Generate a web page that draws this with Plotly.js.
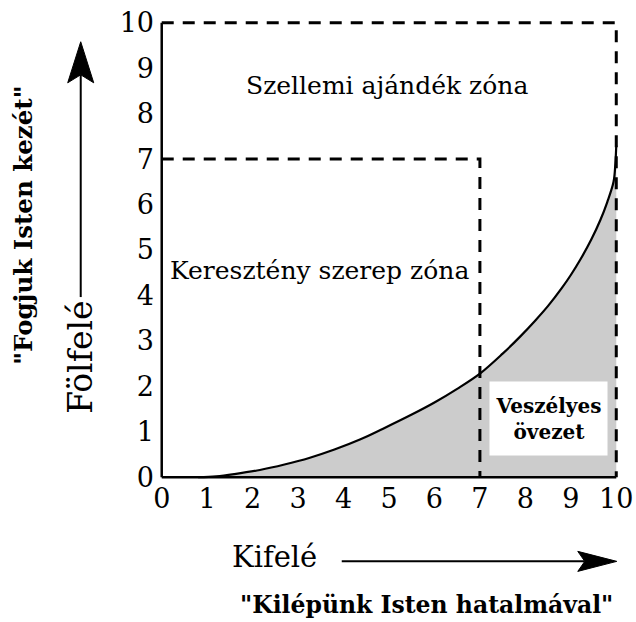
<!DOCTYPE html>
<html>
<head>
<meta charset="utf-8">
<script src="https://cdn.plot.ly/plotly-3.0.1.min.js"></script>
<style>
html,body{margin:0;padding:0;background:#fff;}
#chart{width:636px;height:622px;}
</style>
</head>
<body>
<div id="chart"></div>
<script>
// ---- data ----
var curveX = [0.8, 1.2, 1.6, 2.16, 2.7, 3.26, 3.8, 4.36, 4.87, 5.5, 6.0, 6.5, 7.0, 7.5, 7.89, 8.22, 8.5, 8.8, 9.0, 9.21, 9.45, 9.65, 9.8, 9.94, 9.98, 10];
var curveY = [0, 0.02, 0.07, 0.16, 0.28, 0.43, 0.61, 0.83, 1.07, 1.38, 1.645, 1.945, 2.28, 2.72, 3.10, 3.45, 3.77, 4.16, 4.45, 4.79, 5.23, 5.66, 6.05, 6.5, 6.9, 7.3];
var outerZoneX = [0, 10, 10];
var outerZoneY = [10, 10, 0];
var innerZoneX = [0, 7, 7];
var innerZoneY = [7, 7, 0];
var yAxisLineX = [0, 0];
var yAxisLineY = [0, 10];
var xAxisLineX = [0, 10];
var xAxisLineY = [0, 0];
var tickVals = [0, 1, 2, 3, 4, 5, 6, 7, 8, 9, 10];
var tickText = ["0", "1", "2", "3", "4", "5", "6", "7", "8", "9", "10"];
var zoneLabels = ["Szellemi ajándék zóna", "Keresztény szerep zóna"];
var zoneLabelX = [4.96, 3.48];
var zoneLabelY = [8.63, 4.54];
var dangerLabel = "Veszélyes<br>övezet";
var dangerX = 8.5, dangerY = 1.29;
var xTitle = "Kifelé";
var yTitle = "Fölfelé";
var xSubtitle = "\"Kilépünk Isten hatalmával\"";
var ySubtitle = "\"Fogjuk Isten kezét\"";

// ---- layout helpers ----
var W = 636, H = 622;
var PAD = 0.06;                       // small range padding so edge lines are not clipped
var X0PX = 162, X10PX = 616.5, Y0PX = 477, Y10PX = 23;
var sx = (X10PX - X0PX) / 10, sy = (Y0PX - Y10PX) / 10;
var PW = sx * (10 + 2 * PAD), PH = sy * (10 + 2 * PAD);
var M = {l: X0PX - PAD * sx, t: Y10PX - PAD * sy};
M.r = W - M.l - PW; M.b = H - M.t - PH; M.pad = 0;
function px(x) { return (x - M.l) / PW; }
function py(y) { return (H - M.b - y) / PH; }

var SERIF = "DejaVu Serif, Liberation Serif, serif";
var dash = "12px,9px";

function lineTrace(x, y, w, d) {
  return {x: x, y: y, type: "scatter", mode: "lines", line: {color: "#000", width: w, dash: d || "solid"},
          hoverinfo: "skip", showlegend: false};
}

var traces = [
  {x: curveX, y: curveY, type: "scatter", mode: "lines", fill: "tozeroy",
   fillcolor: "#cccccc", line: {color: "#000", width: 2.2, shape: "spline", smoothing: 1},
   hoverinfo: "skip", showlegend: false},
  lineTrace(yAxisLineX, yAxisLineY, 2.5),
  lineTrace(xAxisLineX, xAxisLineY, 2.5),
  lineTrace(outerZoneX, outerZoneY, 3, dash),
  lineTrace(innerZoneX, innerZoneY, 3, dash)
];

function arrowUp(xc, yTip, yBase, yTail, hw, notch) {
  return [
    {type: "line", xref: "paper", yref: "paper", x0: px(xc), x1: px(xc), y0: py(yTail), y1: py(yBase - notch),
     line: {color: "#000", width: 2}},
    {type: "path", xref: "paper", yref: "paper",
     path: "M" + px(xc) + "," + py(yTip) + " L" + px(xc - hw) + "," + py(yBase) +
           " L" + px(xc) + "," + py(yBase - notch) + " L" + px(xc + hw) + "," + py(yBase) + " Z",
     fillcolor: "#000", line: {color: "#000", width: 1}}
  ];
}
function arrowRight(yc, xTip, xBase, xTail, hw, notch) {
  return [
    {type: "line", xref: "paper", yref: "paper", x0: px(xTail), x1: px(xBase + notch), y0: py(yc), y1: py(yc),
     line: {color: "#000", width: 2}},
    {type: "path", xref: "paper", yref: "paper",
     path: "M" + px(xTip) + "," + py(yc) + " L" + px(xBase) + "," + py(yc - hw) +
           " L" + px(xBase + notch) + "," + py(yc) + " L" + px(xBase) + "," + py(yc + hw) + " Z",
     fillcolor: "#000", line: {color: "#000", width: 1}}
  ];
}

var shapes = [].concat(arrowUp(81, 42, 83, 297, 13, 8), arrowRight(561, 617, 578, 342, 10, 7));

var annotations = [];
function addText(o) {
  o.showarrow = false; o.xanchor = o.xanchor || "center"; o.yanchor = o.yanchor || "middle";
  annotations.push(o);
}
for (var i = 0; i < zoneLabels.length; i++) {
  addText({x: zoneLabelX[i], y: zoneLabelY[i], xref: "x", yref: "y", text: zoneLabels[i],
    font: {family: SERIF, size: 25, color: "#000"}});
}
addText({x: dangerX, y: dangerY, xref: "x", yref: "y", text: dangerLabel,
  bgcolor: "#fff", width: 115, height: 71, borderpad: 1, align: "center",
  font: {family: SERIF, size: 20, color: "#000", weight: "bold"}});
addText({x: px(275), y: py(557), xref: "paper", yref: "paper", text: xTitle,
  font: {family: SERIF, size: 29, color: "#000"}});
addText({x: px(80), y: py(357), xref: "paper", yref: "paper", text: yTitle, textangle: -90,
  font: {family: SERIF, size: 33, color: "#000"}});
addText({x: px(427), y: py(605), xref: "paper", yref: "paper", text: xSubtitle,
  font: {family: SERIF, size: 23.5, color: "#000", weight: "bold"}});
addText({x: px(24), y: py(225), xref: "paper", yref: "paper", text: ySubtitle, textangle: -90,
  font: {family: SERIF, size: 24.5, color: "#000", weight: "bold"}});

var axisCommon = {
  range: [-PAD, 10 + PAD], tickvals: tickVals, ticktext: tickText, showgrid: false, zeroline: false,
  showline: false, ticks: "", tickfont: {family: SERIF, size: 27, color: "#000"}, fixedrange: true
};

var layout = {
  width: W, height: H, margin: M, paper_bgcolor: "#fff", plot_bgcolor: "#fff",
  showlegend: false,
  xaxis: Object.assign({}, axisCommon, {ticklabelstandoff: 0}),
  yaxis: Object.assign({}, axisCommon, {ticklabelstandoff: 4}),
  shapes: shapes, annotations: annotations
};

Plotly.newPlot("chart", traces, layout, {displayModeBar: false, staticPlot: true});
</script>
</body>
</html>
